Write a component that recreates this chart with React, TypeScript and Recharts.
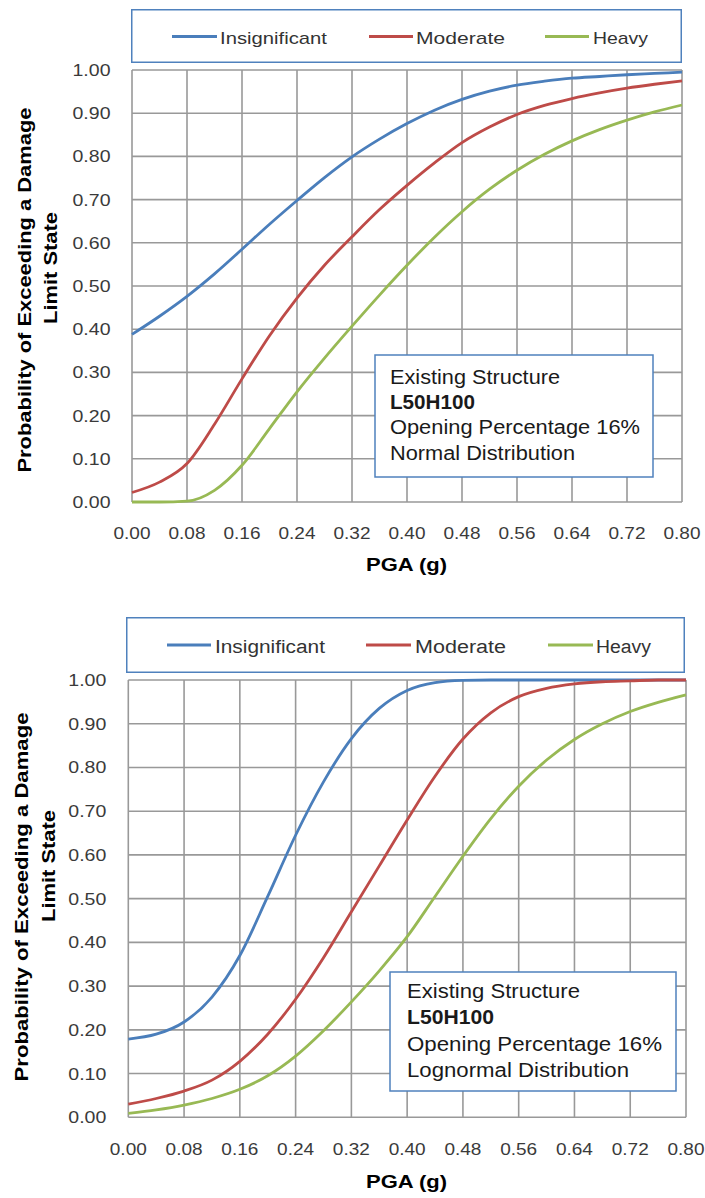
import React from 'react';
import { LineChart, Line, XAxis, YAxis, CartesianGrid, Legend } from 'recharts';

// ---------- data ----------
const PGA = [0, 0.04, 0.08, 0.12, 0.16, 0.2, 0.24, 0.28, 0.32, 0.36, 0.4, 0.44, 0.48, 0.52, 0.56, 0.6, 0.64, 0.68, 0.72, 0.76, 0.8];
const SERIES_NAMES = ['Insignificant', 'Moderate', 'Heavy'];

// Normal distribution (top chart)
const NORMAL_INSIGNIFICANT = [0.388, 0.43, 0.476, 0.528, 0.585, 0.643, 0.698, 0.751, 0.799, 0.84, 0.876, 0.907, 0.932, 0.951, 0.965, 0.974, 0.981, 0.985, 0.989, 0.992, 0.995];
const NORMAL_MODERATE = [0.022, 0.046, 0.089, 0.18, 0.285, 0.385, 0.472, 0.548, 0.614, 0.677, 0.733, 0.785, 0.832, 0.868, 0.897, 0.918, 0.934, 0.947, 0.958, 0.967, 0.975];
const NORMAL_HEAVY = [0, 0, 0.002, 0.027, 0.085, 0.17, 0.255, 0.333, 0.407, 0.479, 0.548, 0.613, 0.672, 0.724, 0.768, 0.805, 0.836, 0.862, 0.884, 0.903, 0.919];

// Lognormal distribution (bottom chart)
const LOGN_INSIGNIFICANT = [0.179, 0.19, 0.218, 0.275, 0.37, 0.505, 0.645, 0.767, 0.866, 0.935, 0.976, 0.994, 0.999, 1, 1, 1, 1, 1, 1, 1, 1];
const LOGN_MODERATE = [0.03, 0.043, 0.06, 0.085, 0.128, 0.19, 0.27, 0.365, 0.47, 0.575, 0.68, 0.78, 0.865, 0.925, 0.962, 0.981, 0.991, 0.996, 0.998, 1, 1];
const LOGN_HEAVY = [0.009, 0.017, 0.028, 0.043, 0.064, 0.095, 0.14, 0.198, 0.264, 0.335, 0.413, 0.505, 0.597, 0.683, 0.757, 0.817, 0.864, 0.9, 0.928, 0.949, 0.966];

const X_TICKS = [0, 0.08, 0.16, 0.24, 0.32, 0.4, 0.48, 0.56, 0.64, 0.72, 0.8];
const Y_TICKS = [0, 0.1, 0.2, 0.3, 0.4, 0.5, 0.6, 0.7, 0.8, 0.9, 1];

const X_TITLE = 'PGA (g)';
const Y_TITLE_1 = 'Probability of Exceeding a Damage';
const Y_TITLE_2 = 'Limit State';
const NOTE_TOP = ['Existing Structure', 'L50H100', 'Opening Percentage 16%', 'Normal Distribution'];
const NOTE_BOTTOM = ['Existing Structure', 'L50H100', 'Opening Percentage 16%', 'Lognormal Distribution'];

// ---------- styles ----------
const FONT = '"Liberation Sans", Arial, Helvetica, sans-serif';
const COLORS = ['#4A7EBB', '#BE4B48', '#98B954'];
const GRID = '#999999';
const BOX = '#4F81BD';

const build = (a: number[], b: number[], c: number[]) =>
  PGA.map((x, i) => ({ pga: x, ins: a[i], mod: b[i], hvy: c[i] }));

const topData = build(NORMAL_INSIGNIFICANT, NORMAL_MODERATE, NORMAL_HEAVY);
const bottomData = build(LOGN_INSIGNIFICANT, LOGN_MODERATE, LOGN_HEAVY);

const KEYS = ['ins', 'mod', 'hvy'];

type Cfg = {
  data: any[];
  top: number;
  height: number;
  margin: { top: number; right: number; bottom: number; left: number };
  yTickDx: number;
  xTickDy: number;
  tickSize: number;
  legend: {
    left: number; top: number; width: number; height: number;
    lines: [number, number][]; textX: number[]; lens: number[]; lineY: number; baseY: number; fs: number;
  };
};

const TOP: Cfg = {
  data: topData,
  top: 0,
  height: 600,
  margin: { top: 70, right: 23, bottom: 58, left: 72 },
  yTickDx: -21.5,
  xTickDy: 37,
  tickSize: 16.5,
  legend: {
    left: 131, top: 9, width: 551, height: 54,
    lines: [[41, 86], [238, 282], [414, 458]],
    textX: [89, 285, 462],
    lens: [107, 89, 55],
    lineY: 27.5, baseY: 35, fs: 17,
  },
};

const BOTTOM: Cfg = {
  data: bottomData,
  top: 600,
  height: 598,
  margin: { top: 80, right: 19, bottom: 40.7, left: 68.3 },
  yTickDx: -22,
  xTickDy: 38,
  tickSize: 17,
  legend: {
    left: 126, top: 17, width: 559, height: 56,
    lines: [[41, 85], [240, 285], [422, 467]],
    textX: [89, 289, 470],
    lens: [110, 91, 55],
    lineY: 28, baseY: 36, fs: 18,
  },
};

const makeYTick = (cfg: Cfg) => (props: any) => {
  const { x, y, payload } = props;
  return (
    <text x={x + cfg.yTickDx} y={y + 6} textAnchor="end" fontFamily={FONT} fontSize={cfg.tickSize}
      fill="#3a3a3a" textLength={38} lengthAdjust="spacingAndGlyphs">
      {Number(payload.value).toFixed(2)}
    </text>
  );
};

const makeXTick = (cfg: Cfg) => (props: any) => {
  const { x, y, payload } = props;
  return (
    <text x={x} y={y + cfg.xTickDy} textAnchor="middle" fontFamily={FONT} fontSize={cfg.tickSize}
      fill="#3a3a3a" textLength={37} lengthAdjust="spacingAndGlyphs">
      {Number(payload.value).toFixed(2)}
    </text>
  );
};

const makeLegend = (cfg: Cfg) => (props: any) => {
  const L = cfg.legend;
  const payload = props.payload || [];
  return (
    <svg width={L.width} height={L.height} style={{ display: 'block' }}>
      <rect x={0.75} y={0.75} width={L.width - 1.5} height={L.height - 1.5} fill="#fff" stroke={BOX} strokeWidth={1.5} />
      {payload.map((p: any) => {
        const i = SERIES_NAMES.indexOf(p.value);
        if (i < 0) return null;
        return (
          <g key={p.value}>
            <line x1={L.lines[i][0]} x2={L.lines[i][1]} y1={L.lineY} y2={L.lineY} stroke={p.color} strokeWidth={3} />
            <text x={L.textX[i]} y={L.baseY} fontFamily={FONT} fontSize={L.fs} fill="#333"
              textLength={L.lens[i]} lengthAdjust="spacingAndGlyphs">{p.value}</text>
          </g>
        );
      })}
    </svg>
  );
};

const Chart = ({ cfg }: { cfg: Cfg }) => (
  <div style={{ position: 'absolute', left: 0, top: cfg.top, width: 705, height: cfg.height }}>
    <LineChart width={705} height={cfg.height} data={cfg.data} margin={cfg.margin}>
      <CartesianGrid stroke={GRID} strokeWidth={1.6} />
      <XAxis dataKey="pga" type="number" domain={[0, 0.8]} ticks={X_TICKS} height={40}
        axisLine={false} tickLine={false} tickSize={0} tickMargin={0} tick={makeXTick(cfg)} interval={0} />
      <YAxis type="number" domain={[0, 1]} ticks={Y_TICKS} width={60}
        axisLine={false} tickLine={false} tickSize={0} tickMargin={0} tick={makeYTick(cfg)} interval={0} />
      <Legend layout="vertical" align="center" verticalAlign="middle"
        wrapperStyle={{ left: cfg.legend.left, top: cfg.legend.top, width: cfg.legend.width, height: cfg.legend.height }}
        content={makeLegend(cfg)} />
      {KEYS.map((k, i) => (
        <Line key={k} dataKey={k} name={SERIES_NAMES[i]} type="monotone" stroke={COLORS[i]}
          strokeWidth={2.8} dot={false} activeDot={false} isAnimationActive={false} />
      ))}
    </LineChart>
  </div>
);

type Note = { x: number; y: number; w: number; h: number; tx: number; bases: number[]; lens: number[]; lines: string[] };
type Titles = { y1: [number, number, number]; y2: [number, number, number]; yfs: number; x: [number, number]; };

const Overlay = ({ notes, titles }: { notes: Note[]; titles: Titles[] }) => (
  <svg width={705} height={1198} style={{ position: 'absolute', left: 0, top: 0, pointerEvents: 'none' }}>
    {titles.map((t, i) => (
      <g key={'t' + i} fontFamily={FONT} fontWeight="bold" fill="#000">
        <text x={t.y1[0]} y={t.y1[1]} transform={`rotate(-90 ${t.y1[0]} ${t.y1[1]})`} textAnchor="middle"
          fontSize={t.yfs} textLength={t.y1[2]} lengthAdjust="spacingAndGlyphs">{Y_TITLE_1}</text>
        <text x={t.y2[0]} y={t.y2[1]} transform={`rotate(-90 ${t.y2[0]} ${t.y2[1]})`} textAnchor="middle"
          fontSize={t.yfs} textLength={t.y2[2]} lengthAdjust="spacingAndGlyphs">{Y_TITLE_2}</text>
        <text x={t.x[0]} y={t.x[1]} textAnchor="middle" fontSize={19} textLength={81}
          lengthAdjust="spacingAndGlyphs">{X_TITLE}</text>
      </g>
    ))}
    {notes.map((n, i) => (
      <g key={'n' + i}>
        <rect x={n.x} y={n.y} width={n.w} height={n.h} fill="#fff" stroke={BOX} strokeWidth={1.5} />
        {n.lines.map((s, j) => (
          <text key={j} x={n.tx} y={n.bases[j]} fontFamily={FONT} fontSize={20} fill="#1a1a1a"
            fontWeight={j === 1 ? 'bold' : 'normal'} textLength={n.lens[j]} lengthAdjust="spacingAndGlyphs">{s}</text>
        ))}
      </g>
    ))}
  </svg>
);

export default function App() {
  const notes: Note[] = [
    { x: 375, y: 355, w: 278, h: 122, tx: 390, bases: [384, 409, 434, 460], lens: [170, 85, 250, 185], lines: NOTE_TOP },
    { x: 390, y: 972, w: 286, h: 119, tx: 407, bases: [998, 1024, 1051, 1077], lens: [173, 87, 255, 222], lines: NOTE_BOTTOM },
  ];
  const titles: Titles[] = [
    { y1: [31, 290, 365], y2: [57, 268, 112], yfs: 18, x: [406.5, 571] },
    { y1: [28, 897, 369], y2: [55, 866, 112], yfs: 19, x: [406.5, 1188] },
  ];
  return (
    <div style={{ position: 'absolute', left: 0, top: 0, width: 705, height: 1198, background: '#fff' }}>
      <Chart cfg={TOP} />
      <Chart cfg={BOTTOM} />
      <Overlay notes={notes} titles={titles} />
    </div>
  );
}
